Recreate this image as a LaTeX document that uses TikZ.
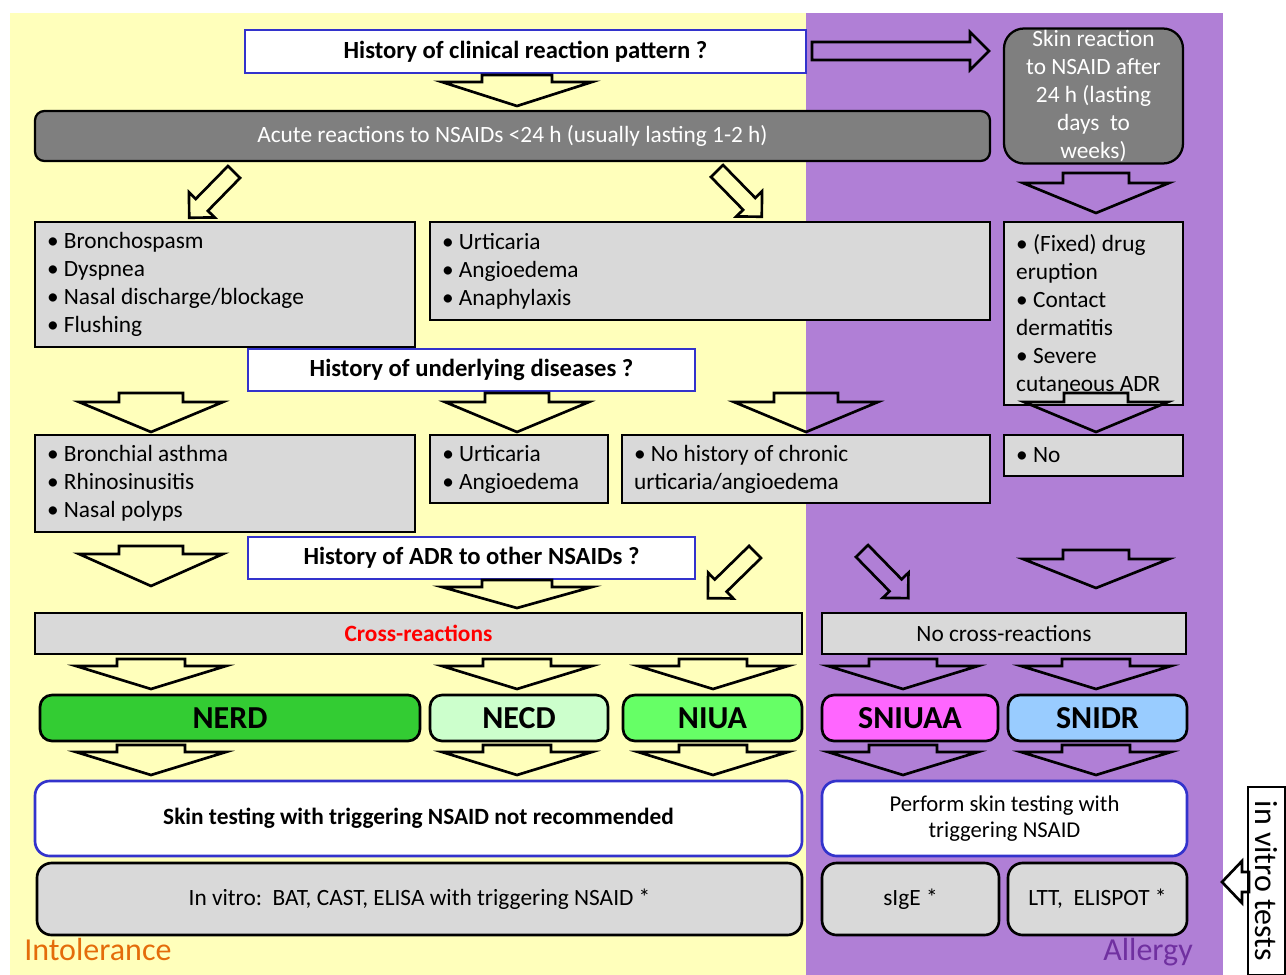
\documentclass[tikz,border=0pt]{standalone}
\usepackage{fontspec}
\setmainfont{Carlito}
\definecolor{ybg}{HTML}{FFFFBB}
\definecolor{pbg}{HTML}{B07FD6}
\definecolor{lgray}{HTML}{D9D9D9}
\definecolor{dgray}{HTML}{7F7F7F}
\definecolor{bblue}{HTML}{3333CC}
\definecolor{cnerd}{HTML}{33CC33}
\definecolor{cnecd}{HTML}{CCFFCC}
\definecolor{cniua}{HTML}{66FF66}
\definecolor{csniuaa}{HTML}{FF66FF}
\definecolor{csnidr}{HTML}{99CCFF}
\definecolor{corange}{HTML}{E46C0A}
\definecolor{cpurple}{HTML}{7030A0}
\tikzset{
  wh/.style 2 args={minimum width=#1*0.75pt, minimum height=#2*0.75pt},
  box/.style={draw=black, line width=1.7pt, inner sep=0pt},
  gbox/.style={box, fill=lgray, align=flush left, font=\fontsize{17.5}{21}\selectfont},
  qbox/.style={draw=bblue, line width=1.8pt, fill=white, inner sep=0pt, font=\fontsize{18.5}{21}\selectfont\bfseries},
  dbox/.style={box, fill=dgray, text=white, font=\fontsize{17.5}{21}\selectfont},
  cbox/.style={box, line width=2pt, rounded corners=9pt, font=\fontsize{24}{28}\selectfont\bfseries},
  sbox/.style={draw=bblue, line width=2pt, rounded corners=11pt, fill=white, inner sep=0pt},
  rbox/.style={box, line width=2pt, rounded corners=11pt, fill=lgray, font=\fontsize{17.5}{21}\selectfont},
  blk/.style={draw=black, line width=2pt, line join=miter},
  pics/barrow/.style n args={4}{code={
    \draw[blk] (0,-#3) -- ({#1-#2},-#3) -- ({#1-#2},-#4) -- (#1,0) -- ({#1-#2},#4) -- ({#1-#2},#3) -- (0,#3) -- cycle;}},
}
\begin{document}
\begin{tikzpicture}[x=0.75pt,y=-0.75pt]
\clip (0,0) rectangle (1286,975);
\fill[white] (0,0) rectangle (1286,975);
% backgrounds
\fill[ybg] (10,13) rectangle (806,975);
\fill[pbg] (806,13) rectangle (1223,975);

% question boxes
\node[qbox, wh={561}{43}] (q1) at (525.5,51.5) {History of clinical reaction pattern ?};
\node[qbox, wh={447}{42}] (q2) at (471.5,370) {History of underlying diseases ?};
\node[qbox, wh={447}{42}] (q3) at (471.5,558) {History of ADR to other NSAIDs ?};

% reaction type
\node[dbox, rounded corners=7pt, wh={955}{50}] (acute) at (512.5,136) {Acute reactions to NSAIDs <24 h (usually lasting 1-2 h)};
\node[dbox, rounded corners=15pt, wh={179}{135}, align=center] (late) at (1093.5,96) {Skin reaction\\to NSAID after\\24 h (lasting\\days\ \ to\\weeks)};

% symptoms
\node[gbox, wh={380}{125}, text width=267pt] (s1) at (225,284.5) {• Bronchospasm\\• Dyspnea\\• Nasal discharge/blockage\\• Flushing};
\node[gbox, wh={560}{98}, text width=402pt] (s2) at (710,271) {• Urticaria\\• Angioedema\\• Anaphylaxis};
\node[gbox, wh={179}{183}, text width=116pt] (s3) at (1093.5,313.5) {• (Fixed) drug\\eruption\\• Contact\\dermatitis\\• Severe\\cutaneous ADR};

% underlying diseases
\node[gbox, wh={380}{97}, text width=267pt] (d1) at (225,483.5) {• Bronchial asthma\\• Rhinosinusitis\\• Nasal polyps};
\node[gbox, wh={178}{68}, text width=115pt] (d2) at (519,469) {• Urticaria\\• Angioedema};
\node[gbox, wh={368}{68}, text width=258pt] (d3) at (806,469) {• No history of chronic\\urticaria/angioedema};
\node[gbox, wh={179}{41}, text width=116pt] (d4) at (1093.5,455.5) {• No};

% cross reactions
\node[gbox, wh={767}{41}, align=center, text=red, font=\fontsize{17.5}{21}\selectfont\bfseries] (cross) at (418.5,633.5) {Cross-reactions};
\node[gbox, wh={364}{41}, align=center] (nocross) at (1004,633.5) {No cross-reactions};

% classification
\node[cbox, fill=cnerd, wh={380}{46}] (nerd) at (230,718) {NERD};
\node[cbox, fill=cnecd, wh={178}{46}] (necd) at (519,718) {NECD};
\node[cbox, fill=cniua, wh={179}{46}] (niua) at (712.5,718) {NIUA};
\node[cbox, fill=csniuaa, wh={176}{46}] (sniuaa) at (910,718) {SNIUAA};
\node[cbox, fill=csnidr, wh={179}{46}] (snidr) at (1097.5,718) {SNIDR};

% skin testing
\node[sbox, wh={767}{75}, font=\fontsize{17.5}{21}\selectfont\bfseries] (skin1) at (418.5,818.5) {Skin testing with triggering NSAID not recommended};
\node[sbox, wh={365}{75}, align=center, font=\fontsize{17}{19.5}\selectfont] (skin2) at (1004.5,818.5) {Perform skin testing with\\triggering NSAID};

% in vitro
\node[rbox, wh={765}{72}] (iv1) at (419.5,899) {In vitro:\ \ BAT, CAST, ELISA with triggering NSAID *};
\node[rbox, wh={177}{72}] (iv2) at (910.5,899) {sIgE *};
\node[rbox, wh={179}{72}] (iv3) at (1097.5,899) {LTT,\ \ ELISPOT *};

% side labels
\node[anchor=base west, inner sep=0pt, text=corange, font=\fontsize{24}{28}\selectfont] (intol) at (24,960) {Intolerance};
\node[anchor=base east, inner sep=0pt, text=cpurple, font=\fontsize{24}{28}\selectfont] (allergy) at (1193,960) {Allergy};
\node[draw=black, line width=1.5pt, fill=white, rotate=-90, minimum width=141pt, minimum height=27.75pt, inner sep=1pt, font=\fontsize{24}{28}\selectfont] (vt) at (1266.5,881) {in vitro tests};

% block arrows
\pic at (812,51) {barrow={177}{19}{9}{19}};
\pic[rotate=-90] at (517,75) {barrow={31}{24}{35}{75}};
\pic[rotate=-90] at (1096,173) {barrow={40}{30}{33}{73}};
\pic[rotate=-134.4] at (234,172) {barrow={64}{18}{8.5}{18}};
\pic[rotate=-45.6] at (717,171) {barrow={64}{18}{8.5}{18}};

\pic[rotate=-90] at (151,393) {barrow={39}{30}{32}{72}};
\pic[rotate=-90] at (517,393) {barrow={39}{30}{32}{72}};
\pic[rotate=-90] at (806,393) {barrow={39}{30}{32}{72}};
\pic[rotate=-90] at (1096,393) {barrow={39}{30}{32}{72}};

\pic[rotate=-90] at (151,546) {barrow={40}{32}{32}{72}};
\pic[rotate=-90] at (517,580) {barrow={28}{21}{35}{75}};
\pic[rotate=-135.6] at (755,552) {barrow={66}{18}{8.5}{18}};
\pic[rotate=-45.6] at (862,551) {barrow={66}{18}{8.5}{18}};
\pic[rotate=-90] at (1096,550) {barrow={38}{29}{33}{73}};

\foreach \cx in {151,517,713,903,1096}{
  \pic[rotate=-90] at (\cx,659) {barrow={30}{23}{34}{75}};
  \pic[rotate=-90] at (\cx,745) {barrow={30}{23}{34}{75}};
}
\pic[rotate=180] at (1249,882) {barrow={27}{20}{10}{21}};
\end{tikzpicture}
\end{document}
